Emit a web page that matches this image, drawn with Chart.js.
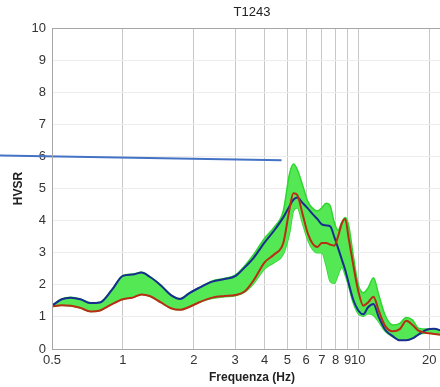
<!DOCTYPE html>
<html>
<head>
<meta charset="utf-8">
<script src="https://cdn.jsdelivr.net/npm/chart.js@4.4.0/dist/chart.umd.min.js"></script>
<style>
    html, body { margin: 0; padding: 0; background: #fff; overflow: hidden; width: 440px; height: 387px; }
    canvas { display: block; }
</style>
</head>
<body>
<canvas id="graficaHVSR" width="456" height="387"></canvas>
<script>
// valori
const frequenze = [0.5, 0.55, 0.6, 0.66, 0.73, 0.8, 0.9, 1.0, 1.1, 1.2, 1.3, 1.45, 1.6, 1.75, 1.9, 2.1, 2.4, 2.7, 3.0, 3.3,
    3.6, 4.0, 4.4, 4.8, 5.1, 5.3, 5.5, 5.8, 6.1, 6.4, 6.7, 7.0, 7.3, 7.6, 7.9, 8.2, 8.5, 8.8, 9.1, 9.5,
    10, 10.5, 11, 11.6, 12.2, 13, 14, 15, 16, 17, 18, 19.5, 21, 22.5];

const curvaBlu = [1.35, 1.55, 1.6, 1.55, 1.43, 1.45, 1.85, 2.28, 2.32, 2.38, 2.25, 1.98, 1.68, 1.56, 1.72, 1.9, 2.1, 2.18, 2.27, 2.55,
    2.85, 3.32, 3.7, 4.1, 4.45, 4.65, 4.72, 4.55, 4.38, 4.2, 4.05, 3.88, 3.85, 3.82, 3.5, 3.15, 2.8, 2.46, 2.05, 1.55,
    1.2, 1.08, 1.3, 1.4, 1.0, 0.6, 0.4, 0.27, 0.27, 0.33, 0.45, 0.6, 0.63, 0.57];

const curvaRossa = [1.33, 1.36, 1.35, 1.28, 1.17, 1.2, 1.4, 1.55, 1.6, 1.7, 1.65, 1.45, 1.27, 1.22, 1.3, 1.45, 1.6, 1.65, 1.68, 1.8,
    2.15, 2.7, 2.95, 3.3, 4.35, 4.85, 4.8, 4.2, 3.6, 3.28, 3.18, 3.3, 3.3, 3.25, 3.22, 3.5, 3.9, 4.05, 3.45, 2.65,
    1.8, 1.35, 1.45, 1.63, 1.2, 0.72, 0.55, 0.62, 0.88, 0.75, 0.57, 0.5, 0.47, 0.44];

const verdeSup = [1.36, 1.56, 1.61, 1.56, 1.44, 1.46, 1.86, 2.29, 2.33, 2.39, 2.26, 1.99, 1.69, 1.57, 1.73, 1.91, 2.12, 2.2, 2.3, 2.6,
    2.95, 3.45, 3.8, 4.3, 5.45, 5.76, 5.6, 5.1, 4.6, 4.38, 4.3, 4.4, 4.54, 4.45, 3.95, 3.7, 3.95, 4.1, 3.85, 2.95,
    2.0, 1.75, 1.9, 2.22, 1.7, 1.05, 0.75, 0.8, 0.98, 0.9, 0.65, 0.62, 0.63, 0.58];

const verdeInf = [1.33, 1.36, 1.35, 1.28, 1.17, 1.2, 1.4, 1.55, 1.6, 1.7, 1.65, 1.45, 1.27, 1.22, 1.3, 1.45, 1.58, 1.63, 1.66, 1.78,
    2.05, 2.5, 2.7, 2.95, 3.6, 4.3, 4.4, 3.9, 3.4, 3.1, 3.0, 3.0, 2.6, 2.1, 2.05, 2.3, 2.55, 2.3, 1.95, 1.45,
    1.1, 1.02, 1.1, 1.05, 0.85, 0.55, 0.38, 0.27, 0.27, 0.33, 0.45, 0.5, 0.47, 0.44];

const tickFrequenze = [0.5, 1, 2, 3, 4, 5, 6, 7, 8, 9, 10, 20];

// linea blu tracciata sopra il grafico
const lineaX = [0.3, 4.72];
const lineaY = [6.03, 5.88];

const punti = (xs, ys) => xs.map((x, i) => ({ x: x, y: ys[i] }));

const fontTick = { family: 'Liberation Sans', size: 13 };
const coloreTesto = '#333';

const cornice = {
    id: 'cornice',
    afterDraw(chart) {
        const a = chart.chartArea;
        const c = chart.ctx;
        c.save();
        c.strokeStyle = '#a6a6a6';
        c.lineWidth = 1;
        c.strokeRect(a.left + 0.5, a.top + 0.5, a.right - a.left, a.bottom - a.top);
        c.restore();
    }
};

const ctx = document.getElementById('graficaHVSR').getContext('2d');

new Chart(ctx, {
    type: 'line',
    data: {
        datasets: [
            {
                data: punti(frequenze, verdeInf),
                borderColor: 'rgb(45,215,45)',
                borderWidth: 1.5,
                pointRadius: 0,
                fill: false,
                cubicInterpolationMode: 'monotone',
                order: 4
            },
            {
                data: punti(frequenze, verdeSup),
                borderColor: 'rgb(45,215,45)',
                backgroundColor: 'rgb(85,232,85)',
                borderWidth: 1.5,
                pointRadius: 0,
                fill: '-1',
                cubicInterpolationMode: 'monotone',
                order: 3
            },
            {
                data: punti(frequenze, curvaBlu),
                borderColor: 'rgb(25,45,145)',
                borderWidth: 2,
                pointRadius: 0,
                fill: false,
                cubicInterpolationMode: 'monotone',
                order: 2
            },
            {
                data: punti(frequenze, curvaRossa),
                borderColor: 'rgb(185,45,20)',
                borderWidth: 2,
                pointRadius: 0,
                fill: false,
                cubicInterpolationMode: 'monotone',
                order: 1
            },
            {
                data: punti(lineaX, lineaY),
                borderColor: 'rgb(68,114,196)',
                borderWidth: 2,
                pointRadius: 0,
                fill: false,
                clip: false,
                order: 0
            }
        ]
    },
    options: {
        responsive: false,
        animation: false,
        layout: { padding: { left: 0, right: 4, top: 0, bottom: 0 } },
        plugins: {
            legend: { display: false },
            tooltip: { enabled: false },
            title: {
                display: true,
                text: 'T1243',
                fullSize: false,
                color: '#222',
                font: { family: 'Liberation Sans', size: 13, weight: 'normal' },
                padding: { top: 5, bottom: 7.4 }
            }
        },
        scales: {
            x: {
                type: 'logarithmic',
                min: 0.5,
                max: 25,
                afterBuildTicks: s => { s.ticks = tickFrequenze.map(v => ({ value: v })); },
                afterFit: s => { s.height = 38; },
                ticks: {
                    autoSkip: false,
                    maxRotation: 0,
                    padding: 4,
                    color: coloreTesto,
                    font: fontTick,
                    callback: v => String(v)
                },
                grid: { color: 'rgb(200,200,200)', drawTicks: false },
                border: { color: '#a6a6a6' },
                title: {
                    display: true,
                    text: 'Frequenza (Hz)',
                    color: '#222',
                    font: { family: 'Liberation Sans', size: 12, weight: 'bold' },
                    padding: { top: 0, bottom: 2 }
                }
            },
            y: {
                min: 0,
                max: 10,
                afterFit: s => { s.width = 52; },
                ticks: {
                    stepSize: 1,
                    padding: 6,
                    color: coloreTesto,
                    font: fontTick
                },
                grid: { color: 'rgb(236,236,236)', drawTicks: false },
                border: { color: '#a6a6a6' },
                title: {
                    display: true,
                    text: 'HVSR',
                    color: '#222',
                    font: { family: 'Liberation Sans', size: 12, weight: 'bold' },
                    padding: { top: 11, bottom: 0 }
                }
            }
        }
    },
    plugins: [cornice]
});
</script>
</body>
</html>
